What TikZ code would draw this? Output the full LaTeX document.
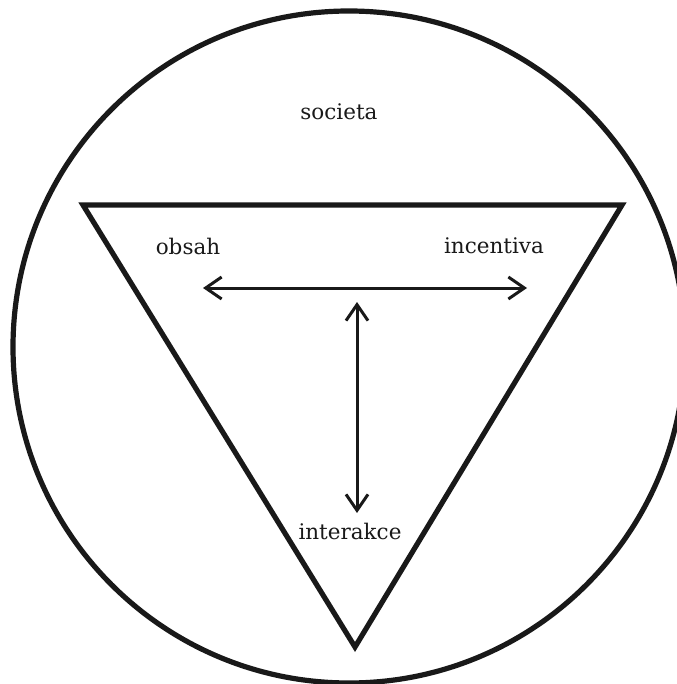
\documentclass[tikz,border=0pt]{standalone}
\usepackage{fontspec}
\setmainfont{DejaVu Serif}
\usetikzlibrary{arrows.meta}
\begin{document}
\begin{tikzpicture}[x=1pt,y=-1pt,
  thick line/.style={line width=5.2pt, draw=black!90},
  link/.style={line width=3pt, draw=black!90, {Straight Barb[length=16pt,width=22pt]}-{Straight Barb[length=16pt,width=22pt]}},
  lbl/.style={font=\fontsize{21.5}{25}\selectfont, text=black!90, inner sep=0pt}]
\useasboundingbox (0,0) rectangle (676,684);
\draw[thick line] (349,347) circle (336);
\coordinate (tl) at (83,205);
\coordinate (tr) at (622,205);
\coordinate (bt) at (355,647);
\draw[thick line, line join=miter] (tl) -- (tr) -- (bt) -- cycle;
\node[lbl] (societa) at (339,112) {societa};
\node[lbl] (obsah) at (188,246) {obsah};
\node[lbl] (incentiva) at (494,246) {incentiva};
\node[lbl] (interakce) at (350,531) {interakce};
\coordinate (hl) at (203,288);
\coordinate (hr) at (527,288);
\coordinate (vt) at (357,302);
\coordinate (vb) at (357,513);
\draw[link] (hl) -- (hr);
\draw[link] (vt) -- (vb);
\end{tikzpicture}
\end{document}
